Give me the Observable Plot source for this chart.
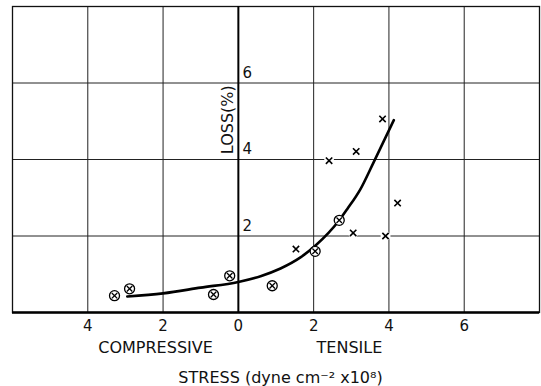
<!DOCTYPE html>
<html>
<head>
<meta charset="utf-8">
<script src="https://cdn.jsdelivr.net/npm/d3@7"></script>
<script src="https://cdn.jsdelivr.net/npm/@observablehq/plot@0.6"></script>
<style>
  html, body { margin: 0; padding: 0; background: #fff; }
</style>
</head>
<body>
<div id="chart"></div>
<script>
// Tick and grid values
const xTicks = [-4, -2, 0, 2, 4, 6];
const xGrid = [-4, -2, 2, 4, 6];
const yTicks = [2, 4, 6];
const yGrid = [2, 4, 6];

// Circled-cross points (⊗)
const circX = [-3.29, -2.89, -0.66, -0.23, 0.90, 2.04, 2.68];
const circY = [0.44, 0.62, 0.47, 0.96, 0.70, 1.60, 2.41];

// Cross points (x)
const crossX = [1.53, 3.05, 3.91, 4.23, 2.41, 3.13, 3.83];
const crossY = [1.66, 2.08, 2.00, 2.86, 3.97, 4.21, 5.06];

// Fitted curve
const curveX = [-2.95, -2, -1, 0, 0.59, 1.12, 1.65, 2.05, 2.68, 2.89, 3.24, 3.59, 4.13];
const curveY = [0.42, 0.50, 0.65, 0.80, 0.95, 1.15, 1.44, 1.75, 2.41, 2.70, 3.22, 3.92, 5.03];

// Text labels
const sideLabels = ["COMPRESSIVE", "TENSILE"];
const sideLabelX = [-2.2, 2.95];
const xTitle = "STRESS (dyne cm\u207B\u00B2 x10\u2078)";
const xTitleX = 1.12;
const yLabel = "LOSS(%)";
const yLabelY = 5.04;

const circ = circX.map((x, i) => ({x, y: circY[i]}));
const cross = crossX.map((x, i) => ({x, y: crossY[i]}));
const curve = curveX.map((x, i) => ({x, y: curveY[i]}));
const sides = sideLabels.map((t, i) => ({text: t, x: sideLabelX[i]}));

const font = "DejaVu Sans";
const ink = "#111";

const chart = Plot.plot({
  width: 541,
  height: 386,
  marginTop: 6,
  marginRight: 2,
  marginBottom: 74,
  marginLeft: 12,
  x: {domain: [-6, 8]},
  y: {domain: [0, 8], axis: null},
  style: {fontFamily: font, background: "#fff", color: ink},
  marks: [
    Plot.ruleX(xGrid, {stroke: "#222", strokeWidth: 1}),
    Plot.ruleY(yGrid, {stroke: "#222", strokeWidth: 1}),
    Plot.frame({stroke: ink, strokeWidth: 1.3}),
    Plot.ruleX([0], {stroke: "#000", strokeWidth: 2}),
    Plot.ruleY([0], {stroke: "#000", strokeWidth: 2.5}),
    Plot.axisX(xTicks, {tickSize: 0, tickPadding: 8, tickFormat: d => String(Math.abs(d)), fontSize: 15, fontFamily: font, fill: ink, label: null}),
    Plot.text(yTicks, {x: () => 0, y: d => d, text: d => String(d), dx: 9, dy: -10, fontSize: 15, fontFamily: font, fill: ink}),
    Plot.text([yLabel], {x: () => 0, y: () => yLabelY, text: d => d, rotate: -90, dx: -10, fontSize: 16, fontFamily: font, fill: ink}),
    Plot.text(sides, {x: "x", y: () => 0, dy: 35, text: "text", fontSize: 16, fontFamily: font, fill: ink}),
    Plot.text([xTitle], {x: () => xTitleX, y: () => 0, dy: 65, text: d => d, fontSize: 16, fontFamily: font, fill: ink}),
    Plot.line(curve, {x: "x", y: "y", curve: "monotone-x", stroke: "#000", strokeWidth: 2.6}),
    Plot.dot(cross, {x: "x", y: "y", r: 5, fill: "#fff", stroke: "none"}),
    Plot.dot(cross, {x: "x", y: "y", symbol: "times", r: 3, stroke: "#000", strokeWidth: 1.6}),
    Plot.dot(circ, {x: "x", y: "y", r: 5, fill: "#fff", stroke: "#000", strokeWidth: 1.3}),
    Plot.dot(circ, {x: "x", y: "y", symbol: "times", r: 2.6, stroke: "#000", strokeWidth: 1.3})
  ]
});

document.getElementById("chart").appendChild(chart);
</script>
</body>
</html>
